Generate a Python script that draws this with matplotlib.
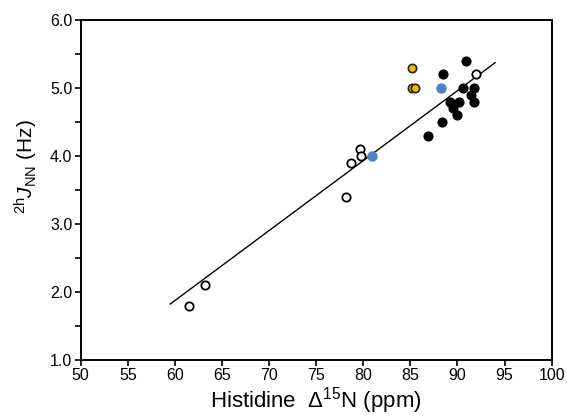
#!/usr/bin/env python3

import matplotlib
matplotlib.use("Agg")
import matplotlib.pyplot as plt
import numpy as np
from matplotlib.ticker import MultipleLocator, FormatStrFormatter


# histidine delta-15N (ppm) vs 2hJNN (Hz)
OPEN_X = [61.5, 63.2, 78.2, 78.7, 79.7, 79.8, 92.0]
OPEN_Y = [1.8, 2.1, 3.4, 3.9, 4.1, 4.0, 5.2]

FILLED_X = [86.9, 88.4, 88.5, 89.2, 89.5, 90.0, 90.2, 90.6, 90.9, 91.4, 91.75, 91.8]
FILLED_Y = [4.3, 4.5, 5.2, 4.8, 4.7, 4.6, 4.8, 5.0, 5.4, 4.9, 5.0, 4.8]

BLUE_X = [80.9, 88.3]
BLUE_Y = [4.0, 5.0]

ORANGE_X = [85.2, 85.2, 85.5]
ORANGE_Y = [5.3, 5.0, 5.0]

# linear fit drawn in the figure
FIT_RANGE = (59.5, 94.0)
FIT_SLOPE = 0.1029
FIT_INTERCEPT = -4.30

OUTPUT_FILE = "out.png"


def main() -> None:
    plt.rcParams["font.family"] = ["Liberation Sans", "DejaVu Sans"]
    plt.rcParams["mathtext.fontset"] = "custom"
    plt.rcParams["mathtext.rm"] = "Liberation Sans"
    plt.rcParams["mathtext.it"] = "Liberation Sans:italic"

    fig = plt.figure(figsize=(5.67, 4.2), dpi=100)
    ax = fig.add_axes([0.1423, 0.1429, 0.8307, 0.8095])

    fit_x = np.array(FIT_RANGE)
    ax.plot(fit_x, FIT_INTERCEPT + FIT_SLOPE * fit_x, color="black", linewidth=1.0, zorder=2)

    ax.plot(OPEN_X, OPEN_Y, "o", markersize=6, markerfacecolor="white",
            markeredgecolor="black", markeredgewidth=1.3, zorder=3)
    ax.plot(FILLED_X, FILLED_Y, "o", markersize=6.3, color="black", zorder=3)
    ax.plot(BLUE_X, BLUE_Y, "o", markersize=6.5, color="#4f81c4", zorder=3)
    ax.plot(ORANGE_X, ORANGE_Y, "o", markersize=6, markerfacecolor="#f6b800",
            markeredgecolor="#222222", markeredgewidth=1.2, zorder=3)

    ax.set_xlim(50, 100)
    ax.set_ylim(1.0, 6.0)
    ax.xaxis.set_major_locator(MultipleLocator(5))
    ax.yaxis.set_major_locator(MultipleLocator(1.0))
    ax.yaxis.set_minor_locator(MultipleLocator(0.5))
    ax.yaxis.set_major_formatter(FormatStrFormatter("%.1f"))

    ax.tick_params(axis="both", which="both", direction="out", width=1.2,
                   labelsize=11.5, pad=2, top=False, right=False)
    ax.tick_params(which="major", length=4)
    ax.tick_params(which="minor", length=4)
    for spine in ax.spines.values():
        spine.set_linewidth(1.4)

    ax.set_xlabel("Histidine  \u0394$^{15}$N (ppm)", fontsize=16, labelpad=1)
    ax.set_ylabel(r"$^{\mathrm{2h}}J_{\mathrm{NN}}$ (Hz)", fontsize=15)
    ax.yaxis.set_label_coords(-0.087, 0.57)

    fig.savefig(OUTPUT_FILE, dpi=100)
    plt.close(fig)


if __name__ == "__main__":
    main()
